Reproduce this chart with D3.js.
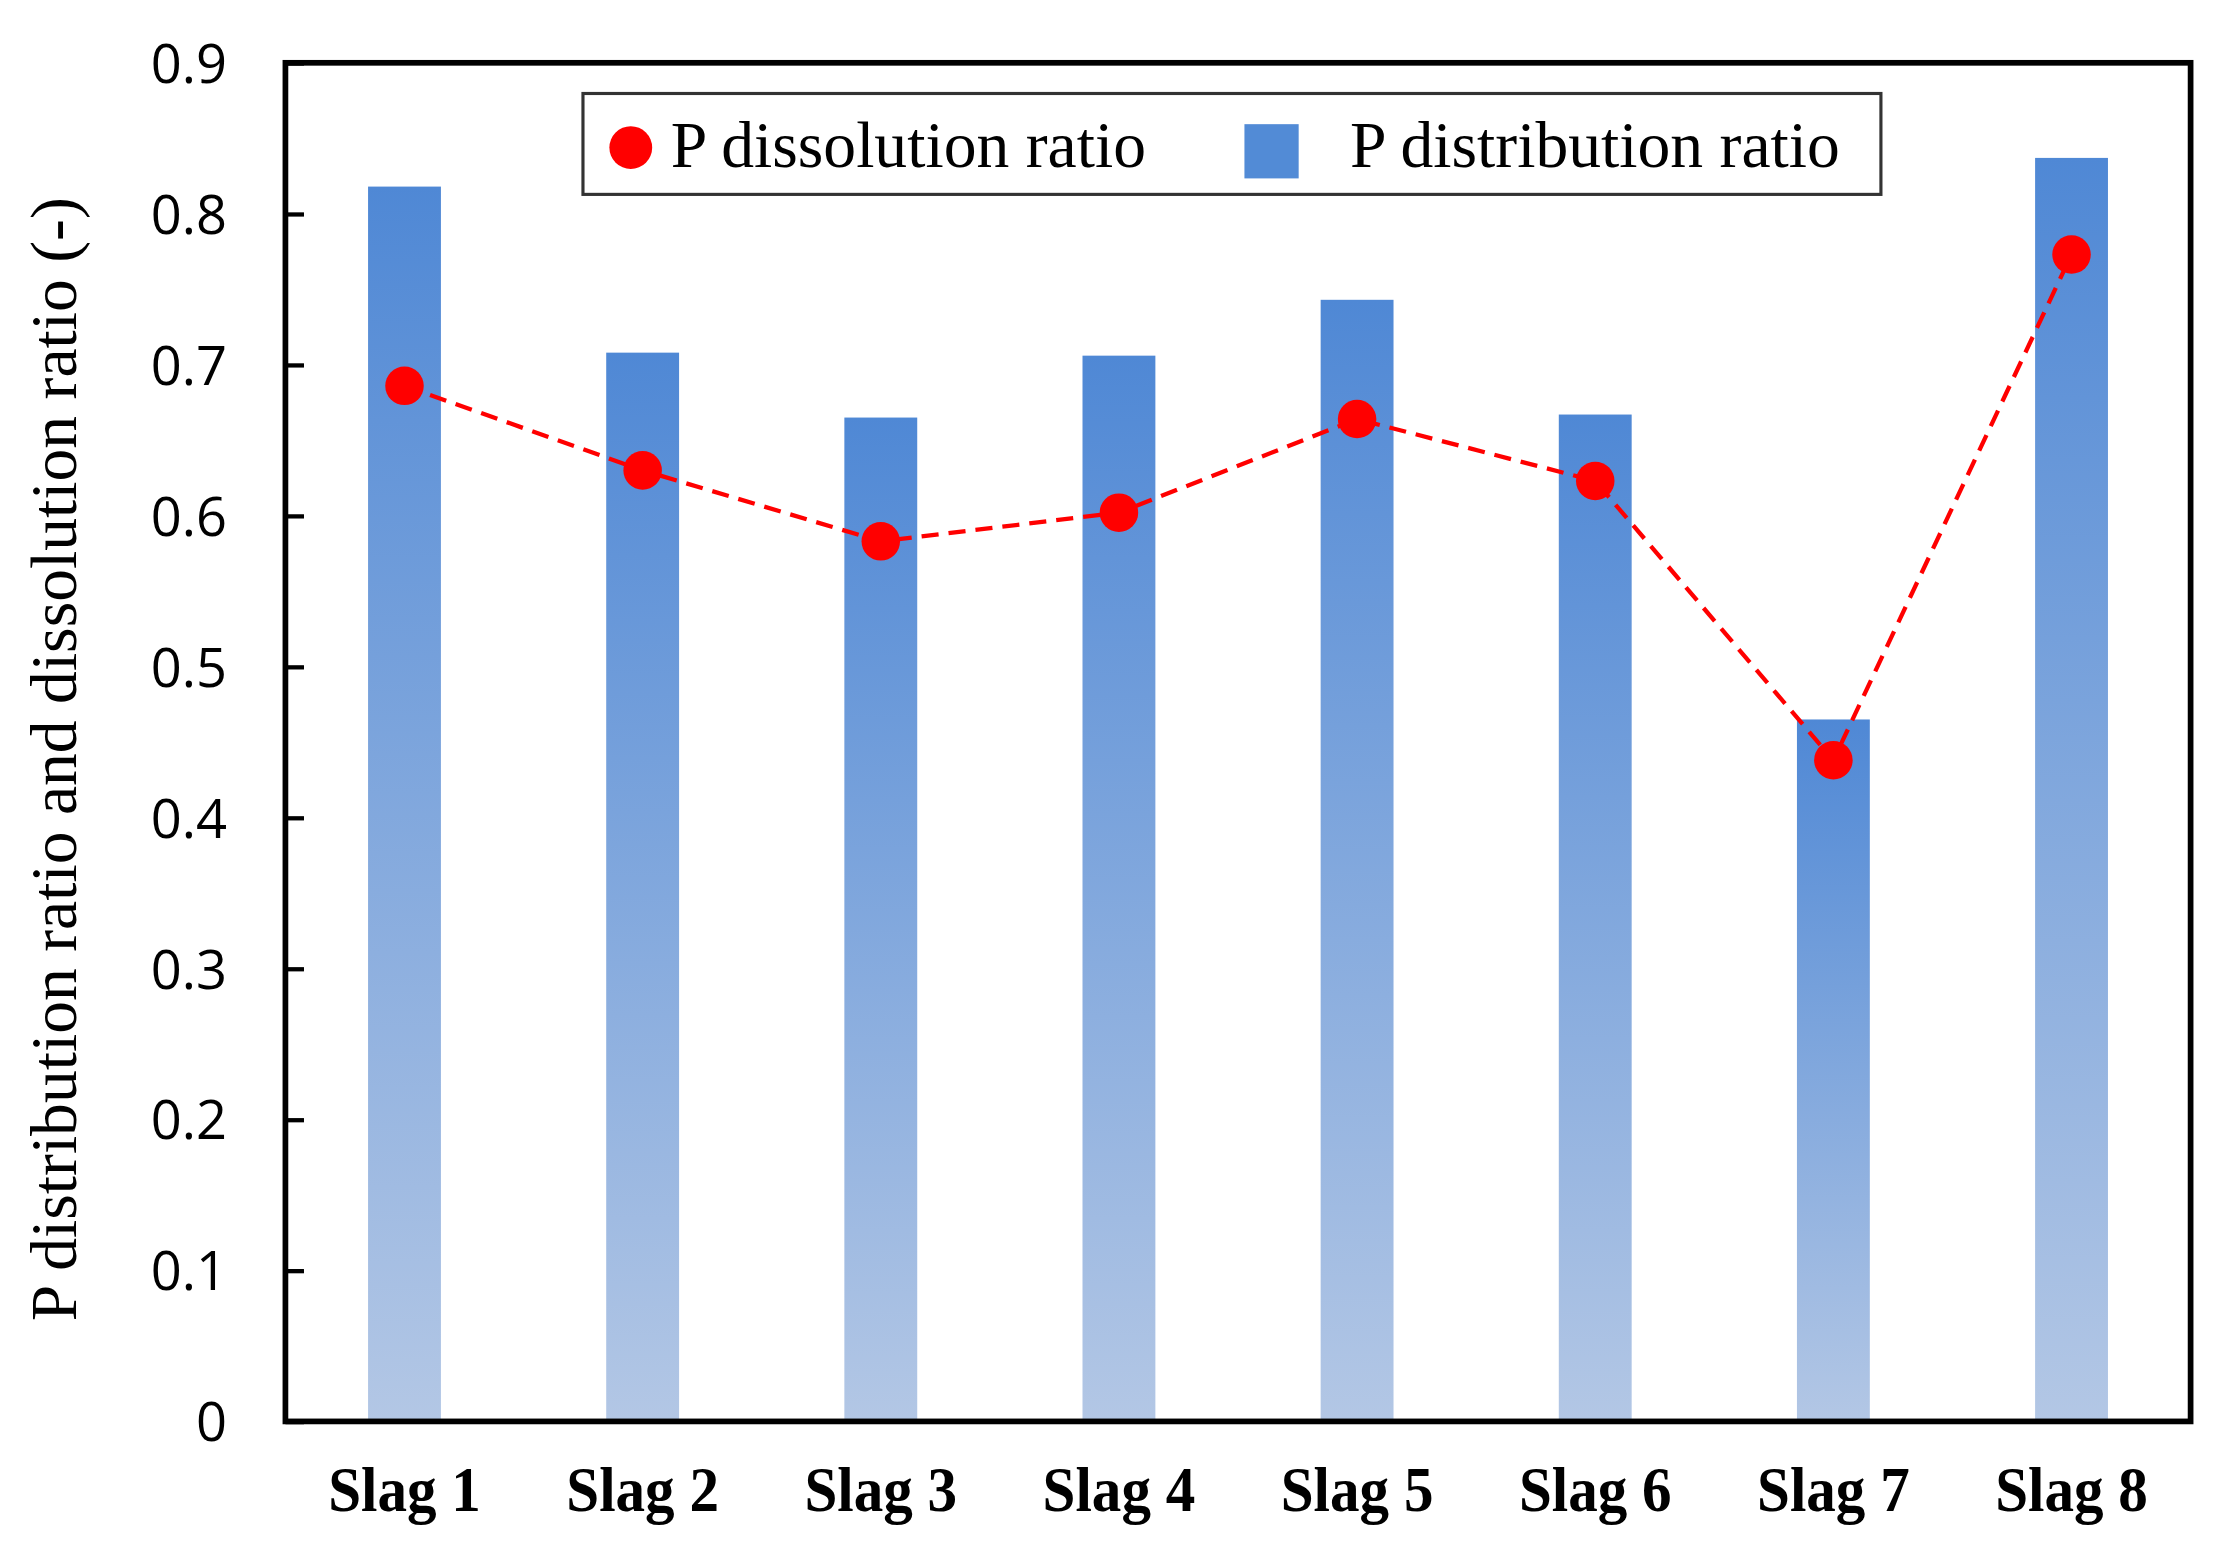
<!DOCTYPE html>
<html><head><meta charset="utf-8">
<script src="https://cdn.jsdelivr.net/npm/d3@7"></script>
<style>html,body{margin:0;padding:0;background:#fff;overflow:hidden}</style>
</head><body>
<svg id="chart" width="2222" height="1557" viewBox="0 0 1557 1091"></svg>
<script>
const categories = ["Slag 1","Slag 2","Slag 3","Slag 4","Slag 5","Slag 6","Slag 7","Slag 8"];
const distributionRatio = [0.818, 0.708, 0.665, 0.706, 0.743, 0.667, 0.465, 0.837];
const dissolutionRatio = [0.686, 0.630, 0.583, 0.602, 0.664, 0.623, 0.438, 0.773];
const yTicks = [0,0.1,0.2,0.3,0.4,0.5,0.6,0.7,0.8,0.9];
const seriesNames = ["P dissolution ratio","P distribution ratio"];
const yTitle = "P distribution ratio and dissolution ratio (-)";

const svg = d3.select("#chart");
const L=200, R=1535, T=44, B=996;
const x = d3.scaleBand().domain(categories).range([L,R]).paddingInner(0.694).paddingOuter(0.347);
const y = d3.scaleLinear().domain([0,0.9]).range([B,T]);

const defs = svg.append("defs");
const grad = defs.append("linearGradient").attr("id","barGrad").attr("x1",0).attr("y1",0).attr("x2",0).attr("y2",1);
grad.append("stop").attr("offset","0%").attr("stop-color","#4F88D5");
grad.append("stop").attr("offset","100%").attr("stop-color","#B3C7E5");

const serif = "'Liberation Serif','Times New Roman',serif";

// bars
svg.append("g").selectAll("rect").data(categories).join("rect")
  .attr("x", d=>x(d)).attr("width", x.bandwidth())
  .attr("y", (d,i)=>y(distributionRatio[i])).attr("height",(d,i)=>B-y(distributionRatio[i]))
  .attr("fill","url(#barGrad)");

// y axis ticks (inside)
const yAxis = d3.axisRight(y).tickValues(yTicks).tickSize(13).tickFormat("");
const gy = svg.append("g").attr("transform",`translate(${L},0)`).call(yAxis);
gy.select(".domain").remove();
gy.selectAll("line").attr("stroke","#000").attr("stroke-width",3);
svg.append("g").selectAll("text").data(yTicks).join("text")
  .attr("x",159).attr("y",d=>y(d)+14).attr("text-anchor","end")
  .attr("font-family","'Open Sans', sans-serif").attr("font-size",38)
  .text(d=>d===0?"0":d3.format(".1f")(d));

// frame
svg.append("rect").attr("x",L).attr("y",T).attr("width",R-L).attr("height",B-T)
  .attr("fill","none").attr("stroke","#000").attr("stroke-width",4);

// line + dots
const cx = d=>x(d)+x.bandwidth()/2;
const line = d3.line().x((d,i)=>cx(categories[i])).y(d=>y(d));
svg.append("path").datum(dissolutionRatio).attr("d",line)
  .attr("fill","none").attr("stroke","#FF0000").attr("stroke-width",3).attr("stroke-dasharray","12,7");
svg.append("g").selectAll("circle").data(dissolutionRatio).join("circle")
  .attr("cx",(d,i)=>cx(categories[i])).attr("cy",d=>y(d)).attr("r",13.5).attr("fill","#FF0000");

// x labels
svg.append("g").selectAll("text").data(categories).join("text")
  .attr("x",d=>cx(d)).attr("y",1059).attr("text-anchor","middle")
  .attr("font-family",serif).attr("font-weight","bold").attr("font-size",44)
  .attr("textLength",107).attr("lengthAdjust","spacingAndGlyphs")
  .text(d=>d);

// y title
svg.append("text").attr("transform",`translate(53,532) rotate(-90)`)
  .attr("text-anchor","middle").attr("font-family",serif)
  .attr("font-size",46).text(yTitle);

// legend
const lg = svg.append("g");
lg.append("rect").attr("x",408.5).attr("y",65.5).attr("width",909.5).attr("height",70.7)
  .attr("fill","#fff").attr("stroke","#333").attr("stroke-width",2.2);
lg.append("circle").attr("cx",442).attr("cy",103.4).attr("r",15).attr("fill","#FF0000");
lg.append("text").attr("x",470).attr("y",117).attr("font-family",serif)
  .attr("font-size",46).text(seriesNames[0]);
lg.append("rect").attr("x",872).attr("y",87).attr("width",38).attr("height",38).attr("fill","#528BD6");
lg.append("text").attr("x",946).attr("y",117).attr("font-family",serif)
  .attr("font-size",46).text(seriesNames[1]);
</script>
</body></html>
